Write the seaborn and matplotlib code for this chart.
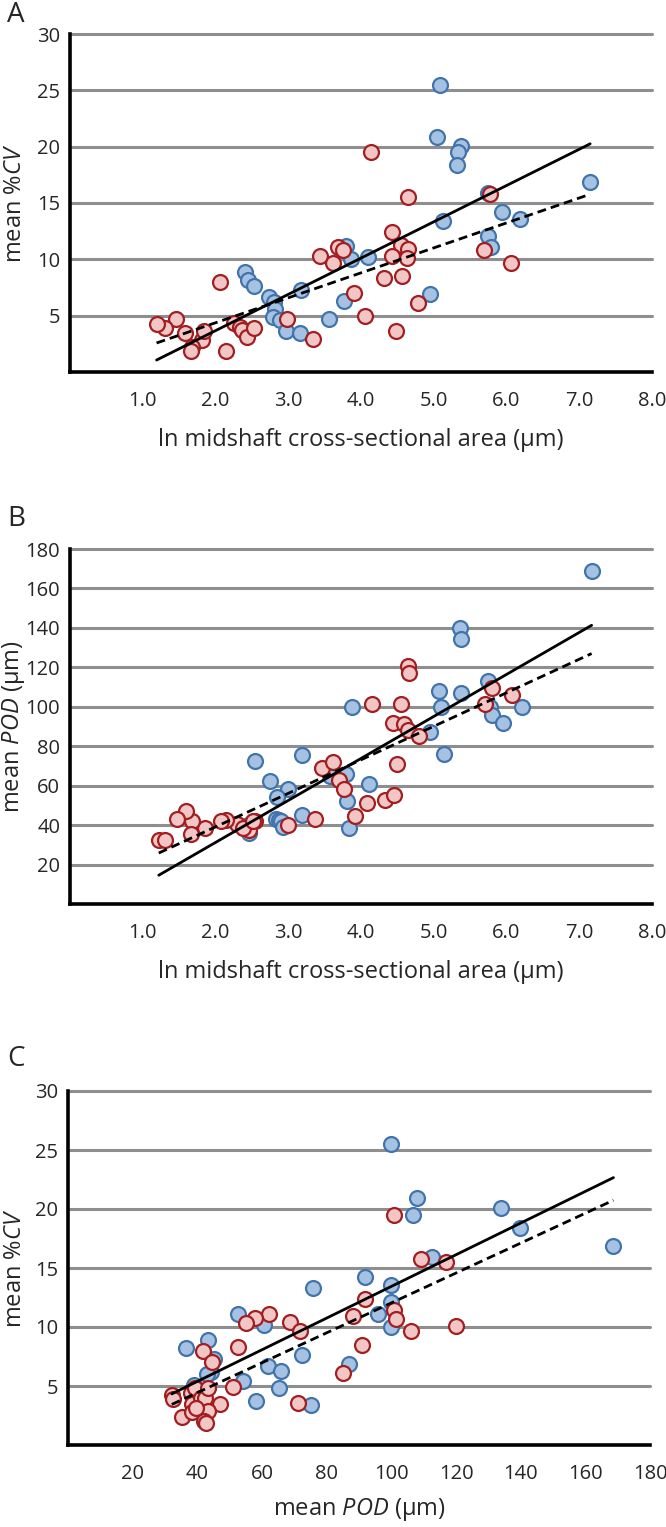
import numpy as np
import pandas as pd
import matplotlib
matplotlib.use("Agg")
import matplotlib.pyplot as plt
import seaborn as sns

# ---------------- data ----------------
# Panel A: ln midshaft area vs mean %CV
A_blue_x = [5.09, 5.05, 5.37, 5.34, 5.32, 7.15, 5.74, 5.94, 6.19, 5.13, 5.75, 5.79,
            3.79, 3.86, 4.10, 4.95, 3.76, 3.56, 2.41, 2.44, 2.53, 2.74, 3.17, 2.80,
            2.82, 2.79, 2.88, 2.97, 3.16]
A_blue_y = [25.5, 20.9, 20.1, 19.5, 18.4, 16.9, 15.9, 14.2, 13.6, 13.4, 12.1, 11.1,
            11.2, 10.0, 10.2, 6.9, 6.3, 4.7, 8.85, 8.2, 7.6, 6.7, 7.3, 6.2,
            5.6, 4.9, 4.6, 3.6, 3.5]
A_red_x = [4.14, 4.64, 5.78, 4.42, 4.55, 4.65, 4.63, 4.43, 3.68, 3.75, 3.44, 3.61,
           5.69, 6.06, 4.31, 4.57, 3.90, 4.79, 4.05, 4.48, 3.34, 2.98, 2.06,
           2.26, 2.33, 2.37, 2.43, 2.53, 2.14, 1.82, 1.84, 1.68, 1.66, 1.58, 1.46,
           1.31, 1.19]
A_red_y = [19.5, 15.5, 15.8, 12.4, 11.3, 10.9, 10.1, 10.3, 11.1, 10.8, 10.3, 9.7,
           10.8, 9.7, 8.35, 8.5, 7.0, 6.1, 4.95, 3.6, 2.9, 4.7, 8.0,
           4.35, 4.0, 3.75, 3.1, 3.9, 1.9, 2.8, 3.6, 2.2, 1.9, 3.5, 4.7,
           3.9, 4.3]

# Panel B: ln midshaft area vs mean POD
B_blue_x = [7.17, 5.36, 5.38, 5.75, 5.07, 5.37, 5.10, 6.21, 3.88, 5.78, 5.80, 5.95,
            4.95, 5.14, 3.19, 2.54, 3.80, 3.58, 4.11, 2.75, 2.99, 2.85, 3.81, 3.19,
            2.83, 2.87, 2.90, 2.93, 3.83, 2.46, 2.45]
B_blue_y = [168.8, 140.1, 134.2, 113.0, 108.1, 107.1, 100.0, 100.0, 99.7, 100.0, 95.8, 91.9,
            87.0, 76.0, 75.3, 72.6, 65.8, 65.0, 60.8, 62.3, 58.2, 54.3, 52.3, 45.2,
            43.3, 42.8, 42.0, 38.8, 38.3, 36.1, 40.0]
B_red_x = [4.64, 4.66, 5.80, 6.08, 5.71, 4.15, 4.55, 4.44, 4.59, 4.65, 4.80, 4.50,
           3.46, 3.62, 3.70, 3.76, 3.92, 4.08, 4.33, 4.46, 3.37, 2.99, 2.54, 2.46,
           2.30, 2.38, 2.52, 2.14, 2.08, 1.85, 1.68, 1.59, 1.67, 1.47, 1.22, 1.31]
B_red_y = [120.6, 117.0, 109.3, 106.1, 101.4, 101.2, 101.2, 92.0, 91.2, 88.2, 85.1, 71.2,
           69.0, 71.8, 62.8, 58.1, 44.5, 51.3, 52.6, 55.5, 43.0, 40.0, 42.2, 37.4,
           40.5, 38.5, 42.0, 42.8, 42.0, 38.3, 42.0, 47.0, 35.7, 43.0, 32.7, 32.3]

# Panel C: mean POD vs mean %CV
C_blue_x = [99.8, 107.9, 106.8, 133.8, 139.8, 168.7, 112.6, 91.8, 99.8, 75.9, 99.8, 95.8,
            99.8, 52.6, 60.6, 36.6, 43.3, 45.0, 44.1, 72.4, 87.0, 62.0, 65.8, 54.0,
            65.4, 58.0, 75.3, 39.0, 41.0, 43.0]
C_blue_y = [25.5, 20.9, 19.5, 20.1, 18.4, 16.9, 15.9, 14.2, 13.6, 13.3, 12.1, 11.1,
            10.0, 11.1, 10.2, 8.2, 8.9, 7.3, 6.2, 7.6, 6.9, 6.7, 6.3, 5.4,
            4.85, 3.7, 3.4, 5.1, 4.6, 6.0]
C_red_x = [100.9, 109.2, 116.8, 91.8, 100.9, 101.3, 88.0, 106.0, 119.9, 90.9, 84.9, 62.2,
           57.9, 55.2, 68.8, 71.6, 52.5, 41.7, 44.6, 51.1, 71.2, 47.0,
           32.1, 32.4, 35.4, 37.9, 39.4, 38.4, 38.4, 41.0, 42.3, 43.3, 43.3, 42.1,
           42.6, 39.7]
C_red_y = [19.5, 15.8, 15.5, 12.4, 11.4, 10.7, 10.9, 9.7, 10.1, 8.5, 6.1, 11.1,
           10.8, 10.3, 10.4, 9.65, 8.3, 8.0, 7.05, 4.9, 3.6, 3.45,
           4.2, 3.9, 2.4, 4.4, 4.8, 3.5, 2.8, 3.95, 3.95, 4.8, 2.9, 2.05,
           1.85, 3.1]

# fitted lines: (intercept, slope)
A_solid_fit = (-2.77, 3.22)
A_dashed_fit = (-0.06, 2.215)
B_solid_fit = (-11.4, 21.3)
B_dashed_fit = (5.1, 17.0)
C_solid_fit = (0.02, 0.1342)
C_dashed_fit = (-0.63, 0.1267)

A_xticks = [1.0, 2.0, 3.0, 4.0, 5.0, 6.0, 7.0, 8.0]
A_yticks = [5, 10, 15, 20, 25, 30]
B_yticks = [20, 40, 60, 80, 100, 120, 140, 160, 180]
C_xticks = [20, 40, 60, 80, 100, 120, 140, 160, 180]

# ---------------- style ----------------
sns.set_style("white")
plt.rcParams["font.family"] = ["Open Sans", "DejaVu Sans"]
plt.rcParams["mathtext.fontset"] = "custom"
plt.rcParams["mathtext.rm"] = "Open Sans"
plt.rcParams["mathtext.it"] = "Open Sans:italic"

TICK_FONT = ["Liberation Sans Narrow", "Open Sans", "DejaVu Sans"]
BLUE_FACE, BLUE_EDGE = "#a6c2e3", "#4174ac"
RED_FACE, RED_EDGE = "#f3c6c6", "#a31e21"
GRID = "#8e8e8e"

fig = plt.figure(figsize=(6.66, 15.27), dpi=100)
W, H = 666.0, 1527.0


def make_ax(left, right, top, bottom):
    return fig.add_axes([left / W, 1 - bottom / H, (right - left) / W, (bottom - top) / H])


def draw_panel(ax, bx, by, rx, ry, solid, dashed, xlim, ylim, xticks, yticks,
               xfmt, xlabel, ylabel, letter, letter_y, axis_left, xlabelpad):
    for yt in yticks:
        ax.axhline(yt, color=GRID, lw=2.2, zorder=0, clip_on=False)
    sns.scatterplot(x=bx, y=by, ax=ax, s=115, color=BLUE_FACE, edgecolor=BLUE_EDGE,
                    linewidth=1.6, zorder=3, clip_on=False)
    sns.scatterplot(x=rx, y=ry, ax=ax, s=115, color=RED_FACE, edgecolor=RED_EDGE,
                    linewidth=1.6, zorder=3, clip_on=False)
    allx = np.array(list(bx) + list(rx))
    xs = np.array([allx.min(), allx.max()])
    df = pd.DataFrame({"x": np.concatenate([xs, xs]),
                       "y": np.concatenate([solid[0] + solid[1] * xs,
                                            dashed[0] + dashed[1] * xs]),
                       "fit": ["solid"] * 2 + ["dashed"] * 2})
    sns.lineplot(data=df, x="x", y="y", style="fit", ax=ax, color="black", lw=2.0,
                 dashes={"solid": "", "dashed": (3.2, 1.8)}, legend=False, zorder=4)
    ax.set_xlim(*xlim)
    ax.set_ylim(*ylim)
    ax.set_xticks(xticks)
    ax.set_xticklabels([xfmt(v) for v in xticks], fontsize=14.5, family=TICK_FONT)
    ax.set_yticks(yticks)
    ax.set_yticklabels([str(v) for v in yticks], fontsize=14.5, family=TICK_FONT)
    ax.tick_params(axis="x", direction="out", length=6, width=1.5, color="black", pad=8)
    ax.tick_params(axis="y", direction="out", length=4, width=1.5, color=GRID, pad=3)
    for s in ["top", "right"]:
        ax.spines[s].set_visible(False)
    for s in ["left", "bottom"]:
        ax.spines[s].set_linewidth(2.6)
        ax.spines[s].set_color("black")
        ax.spines[s].set_zorder(5)
    ax.set_xlabel(xlabel, fontsize=17, labelpad=xlabelpad)
    ax.set_ylabel(ylabel, fontsize=17)
    width_px = ax.get_position().width * W
    ax.yaxis.set_label_coords((27 - axis_left) / width_px, 0.5)
    fig.text(7 / W, 1 - letter_y / H, letter, fontsize=20, va="center", ha="left")


axA = make_ax(70, 652, 34, 372)
draw_panel(axA, A_blue_x, A_blue_y, A_red_x, A_red_y, A_solid_fit, A_dashed_fit,
           (0, 8.0), (0, 30), A_xticks, A_yticks, lambda v: f"{v:.1f}",
           "ln midshaft cross-sectional area (µm)", r"mean %$\mathit{CV}$", "A", 15, 70, 12)

axB = make_ax(70, 652, 549, 904)
draw_panel(axB, B_blue_x, B_blue_y, B_red_x, B_red_y, B_solid_fit, B_dashed_fit,
           (0, 8.0), (0, 180), A_xticks, B_yticks, lambda v: f"{v:.1f}",
           "ln midshaft cross-sectional area (µm)", r"mean $\mathit{POD}$ (µm)", "B", 519, 70, 12)

axC = make_ax(68, 650, 1091, 1445)
draw_panel(axC, C_blue_x, C_blue_y, C_red_x, C_red_y, C_solid_fit, C_dashed_fit,
           (0, 180), (0, 30), C_xticks, A_yticks, lambda v: f"{int(v)}",
           r"mean $\mathit{POD}$ (µm)", r"mean %$\mathit{CV}$", "C", 1059, 68, 8)

fig.savefig("out.png", dpi=100)
